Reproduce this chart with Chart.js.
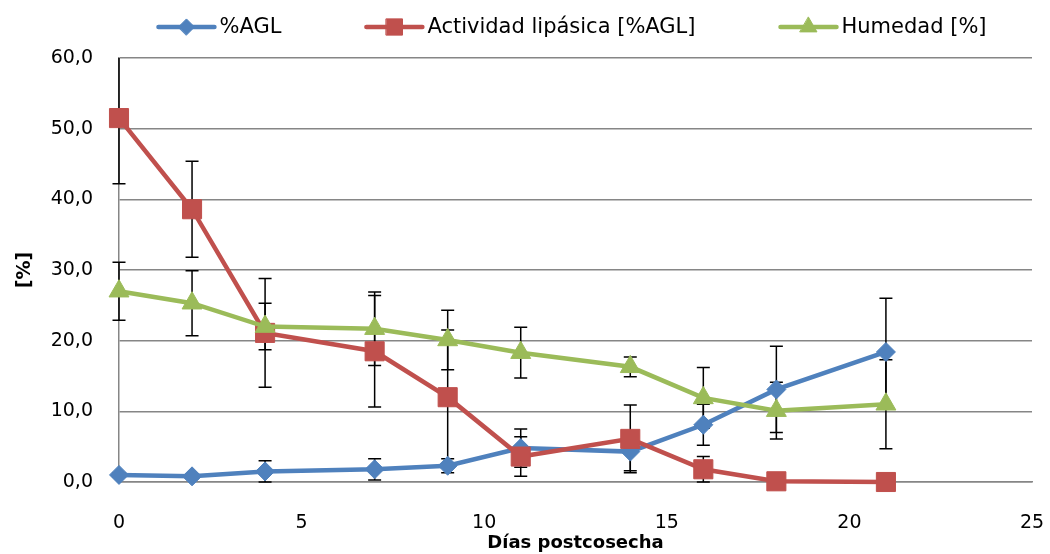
<!DOCTYPE html>
<html>
<head>
<meta charset="utf-8">
<script src="https://cdn.jsdelivr.net/npm/chart.js@4.4.1/dist/chart.umd.min.js"></script>
<style>
  html, body { margin: 0; padding: 0; background: #ffffff; }
  #wrap { width: 1050px; height: 554px; position: relative; }
</style>
</head>
<body>
<div id="wrap"><canvas id="chart" width="1050" height="554"></canvas></div>
<script>
// Días postcosecha (eje X)
const dias = [0, 2, 4, 7, 9, 11, 14, 16, 18, 21];

// %AGL y su desviación
const agl    = [1.0, 0.8, 1.5, 1.8, 2.3, 4.8, 4.3, 8.1, 13.1, 18.4];
const aglErr = [0.3, 0.3, 1.5, 1.5, 1.0, 2.7, 2.7, 2.9, 6.1, 7.6];

// Actividad lipásica [%AGL] y su desviación
const lipasa    = [51.5, 38.6, 21.1, 18.5, 12.0, 3.6, 6.1, 1.8, 0.1, 0.0];
const lipasaErr = [9.3, 6.8, 7.7, 7.9, 9.5, 2.8, 4.8, 1.8, 0.0, 0.0];

// Humedad [%] y su desviación
const humedad    = [27.0, 25.3, 22.0, 21.7, 20.1, 18.3, 16.3, 11.9, 10.1, 11.0];
const humedadErr = [4.1, 4.6, 3.3, 5.2, 4.2, 3.6, 1.4, 4.3, 4.0, 6.3];

// Etiquetas de las series
const etiquetas = ['%AGL', 'Actividad lipásica [%AGL]', 'Humedad [%]'];

const FONT = '"DejaVu Sans", "Liberation Sans", sans-serif';
const TEXT = '#000000';
const GRID = '#868686';

const puntos = (ys) => dias.map((d, i) => ({ x: d, y: ys[i] }));

// Barras de error verticales con remate, bajo las líneas
const errorBars = {
  id: 'errorBars',
  beforeDatasetsDraw(chart) {
    const { ctx, chartArea, scales: { x, y } } = chart;
    ctx.save();
    ctx.beginPath();
    ctx.rect(chartArea.left - 10, chartArea.top, chartArea.right - chartArea.left + 20, chartArea.bottom - chartArea.top + 1);
    ctx.clip();
    ctx.strokeStyle = '#000000';
    ctx.lineWidth = 1.5;
    chart.data.datasets.forEach((ds) => {
      const errs = ds.errores;
      if (!errs) return;
      ds.data.forEach((p, i) => {
        const e = errs[i];
        if (!e) return;
        const px = x.getPixelForValue(p.x);
        const yHi = y.getPixelForValue(p.y + e);
        const yLo = y.getPixelForValue(p.y - e);
        const cap = 6.5;
        ctx.beginPath();
        ctx.moveTo(px, yHi); ctx.lineTo(px, yLo);
        ctx.moveTo(px - cap, yHi); ctx.lineTo(px + cap, yHi);
        ctx.moveTo(px - cap, yLo); ctx.lineTo(px + cap, yLo);
        ctx.stroke();
      });
    });
    ctx.restore();
  }
};

// Leyenda superior: línea con marcador y texto
const leyenda = {
  id: 'leyenda',
  afterDraw(chart) {
    const { ctx, chartArea } = chart;
    const lineLen = 56, gapText = 5, gapItem = 85, cy = 27;
    ctx.save();
    ctx.font = '21px ' + FONT;
    const items = chart.data.datasets.map((ds) => ({ ds, w: lineLen + gapText + ctx.measureText(ds.label).width }));
    const total = items.reduce((s, it) => s + it.w, 0) + gapItem * (items.length - 1);
    let x0 = (chartArea.left + chartArea.right) / 2 - 3 - total / 2;
    items.forEach(({ ds, w }) => {
      ctx.strokeStyle = ds.borderColor;
      ctx.lineWidth = ds.borderWidth;
      ctx.lineCap = 'round';
      ctx.beginPath();
      ctx.moveTo(x0, cy); ctx.lineTo(x0 + lineLen, cy);
      ctx.stroke();
      ctx.fillStyle = ds.pointBackgroundColor;
      ctx.strokeStyle = ds.pointBorderColor;
      ctx.lineWidth = 1;
      Chart.helpers.drawPoint(ctx, { pointStyle: ds.pointStyle, radius: ds.pointRadius * 0.85, borderWidth: 1, rotation: 0 }, x0 + lineLen / 2, cy);
      ctx.fillStyle = TEXT;
      ctx.textBaseline = 'middle';
      ctx.textAlign = 'left';
      ctx.fillText(ds.label, x0 + lineLen + gapText, cy + 1);
      x0 += w + gapItem;
    });
    ctx.restore();
  }
};

const serie = (label, ys, errs, color, style, radius, order) => ({
  label,
  data: puntos(ys),
  errores: errs,
  borderColor: color,
  backgroundColor: color,
  pointBackgroundColor: color,
  pointBorderColor: color,
  borderWidth: 4.5,
  pointStyle: style,
  pointRadius: radius,
  pointHoverRadius: radius,
  pointBorderWidth: 1,
  tension: 0,
  showLine: true,
  clip: false,
  order
});

new Chart(document.getElementById('chart'), {
  type: 'scatter',
  data: {
    datasets: [
      serie(etiquetas[0], agl, aglErr, '#4F81BD', 'rectRot', 9.5, 3),
      serie(etiquetas[1], lipasa, lipasaErr, '#C0504D', 'rect', 13.5, 2),
      serie(etiquetas[2], humedad, humedadErr, '#9BBB59', 'triangle', 11.5, 1)
    ]
  },
  plugins: [errorBars, leyenda],
  options: {
    responsive: false,
    animation: false,
    devicePixelRatio: 1,
    layout: { padding: { left: 0, right: 18, top: 58, bottom: 0 } },
    plugins: {
      legend: { display: false },
      tooltip: { enabled: false }
    },
    scales: {
      x: {
        type: 'linear',
        min: 0, max: 25,
        ticks: { stepSize: 5, color: TEXT, padding: 2, font: { family: FONT, size: 19 } },
        grid: { display: false, drawTicks: true, tickLength: 28 },
        border: { display: true, color: GRID, width: 1.5 },
        title: { display: true, text: 'Días postcosecha', color: TEXT, padding: { top: 0, bottom: 0 }, font: { family: FONT, size: 18, weight: 'bold' } },
        afterFit(s) { s.height = 72; }
      },
      y: {
        min: 0, max: 60,
        ticks: {
          stepSize: 10, color: TEXT, padding: 26,
          font: { family: FONT, size: 19 },
          callback: (v) => v.toFixed(1).replace('.', ',')
        },
        grid: { color: GRID, lineWidth: 1.5, drawTicks: false },
        border: { display: true, color: GRID, width: 1.5 },
        title: { display: true, text: '[%]', color: TEXT, padding: { top: 14, bottom: 0 }, font: { family: FONT, size: 19, weight: 'bold' } },
        afterFit(s) { s.width = 119; }
      }
    }
  }
});
</script>
</body>
</html>
